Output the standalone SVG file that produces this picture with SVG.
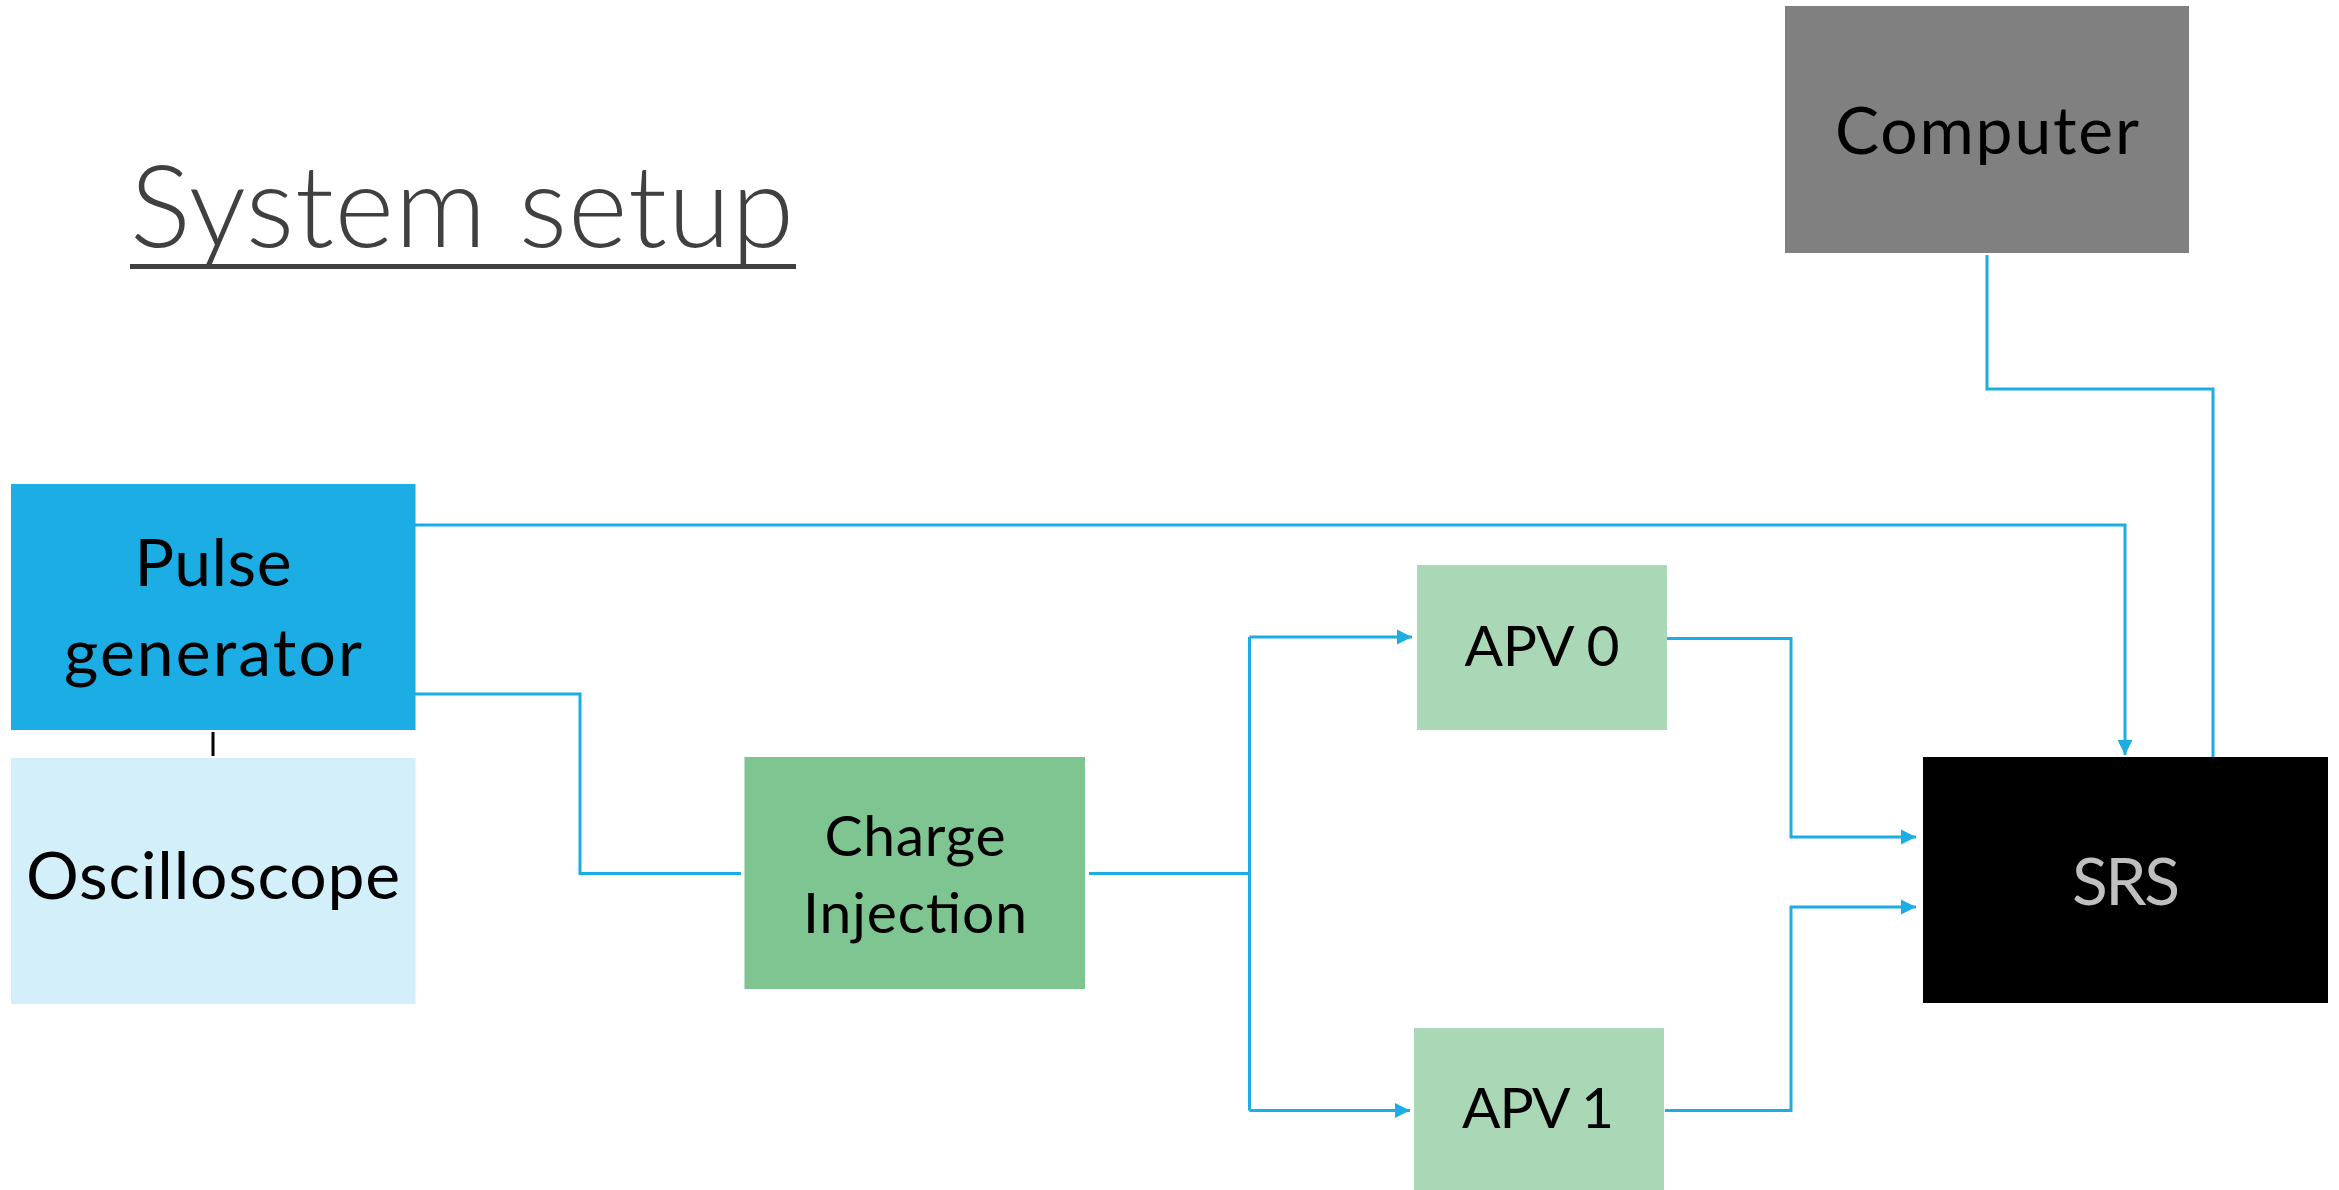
<svg xmlns="http://www.w3.org/2000/svg" width="2339" height="1190" viewBox="0 0 2339 1190">
  <defs>
    <style>
      .lbl { font-family: Lato, "Open Sans", "Liberation Sans", sans-serif; fill: #000000; text-anchor: middle; }
      .big { font-size: 66px; }
      .mid { font-size: 57px; }
      .title { font-family: Lato, "Open Sans", "Liberation Sans", sans-serif; font-weight: 300; font-size: 114px; fill: #404040; }
      .wire { fill: none; stroke: #1CADE4; stroke-width: 3; }
      .arrow { marker-end: url(#head); }
    </style>
    <marker id="head" markerUnits="userSpaceOnUse" markerWidth="16" markerHeight="16" refX="15" refY="8" orient="auto">
      <path d="M0,0.5 L15,8 L0,15.5 Z" fill="#1CADE4"/>
    </marker>
  </defs>

  <rect width="2339" height="1190" fill="#ffffff"/>

  <!-- heading -->
  <g id="title">
    <text class="title" x="130" y="247" textLength="664">System setup</text>
    <rect x="130" y="264" width="666" height="5" fill="#404040"/>
  </g>

  <!-- connectors -->
  <g id="connectors">
    <path class="wire arrow" d="M415,525 H2125 V755"/>
    <path class="wire" d="M415,694 H580 V873.5 H741"/>
    <path class="wire" d="M1089,873.5 H1249.5"/>
    <path class="wire" d="M1249.5,637 V1110.5"/>
    <path class="wire arrow" d="M1249.5,637 H1412"/>
    <path class="wire arrow" d="M1249.5,1110.5 H1410"/>
    <path class="wire arrow" d="M1667,638.5 H1791 V837 H1916"/>
    <path class="wire arrow" d="M1665,1110.5 H1791 V907 H1916"/>
    <path class="wire" d="M1987,255 V389 H2213 V757"/>
    <path d="M213,732 V756" stroke="#000000" stroke-width="3" fill="none"/>
  </g>

  <g id="computer">
    <rect x="1785" y="6" width="404" height="247" fill="#808080"/>
    <text class="lbl big" x="1987" y="154" textLength="304">Computer</text>
  </g>

  <g id="pulse-generator">
    <rect x="11" y="484" width="404.5" height="246" fill="#1CADE4"/>
    <text class="lbl big" x="213" y="586" textLength="157">Pulse</text>
    <text class="lbl big" x="213" y="676" textLength="298">generator</text>
  </g>

  <g id="oscilloscope">
    <rect x="11" y="758" width="404.5" height="246" fill="#D2EFFA"/>
    <text class="lbl big" x="213" y="899" textLength="374">Oscilloscope</text>
  </g>

  <g id="charge-injection">
    <rect x="744.5" y="757" width="340.5" height="232" fill="#7FC591"/>
    <text class="lbl mid" x="915" y="856" textLength="181">Charge</text>
    <text class="lbl mid" x="915" y="933" textLength="224">Injection</text>
  </g>

  <g id="apv0">
    <rect x="1417" y="565" width="250" height="165" fill="#AAD8B7"/>
    <text class="lbl mid" x="1542" y="666" textLength="155">APV 0</text>
  </g>

  <g id="apv1">
    <rect x="1414" y="1028" width="250" height="162" fill="#AAD8B7"/>
    <text class="lbl mid" x="1538" y="1128" textLength="152">APV 1</text>
  </g>

  <g id="srs">
    <rect x="1923" y="757" width="405" height="246" fill="#000000"/>
    <text class="lbl big" x="2126" y="905" textLength="108" style="fill:#BFBFBF">SRS</text>
  </g>
</svg>
